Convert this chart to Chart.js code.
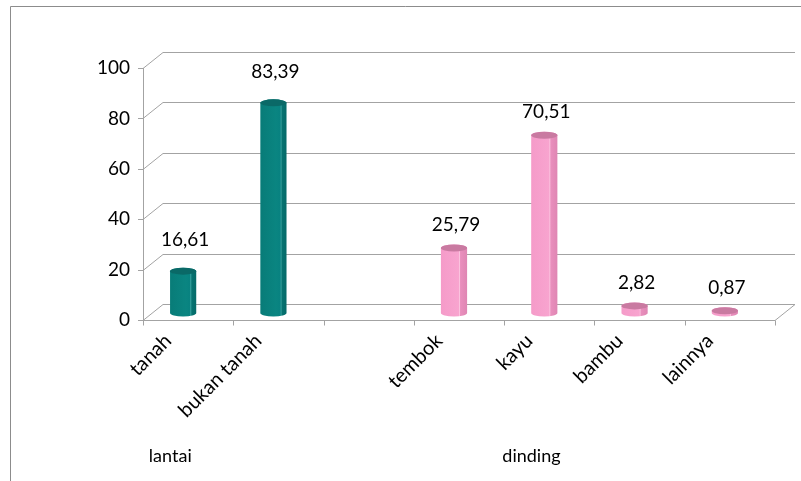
<!DOCTYPE html>
<html>
<head>
<meta charset="utf-8">
<script src="https://cdn.jsdelivr.net/npm/chart.js@4"></script>
<style>
  html, body { margin: 0; padding: 0; background: #fff; }
  #wrap { width: 801px; height: 481px; position: relative; }
</style>
</head>
<body>
<div id="wrap"><canvas id="chart" width="801" height="481"></canvas></div>
<script>
// data
const categories = ['tanah', 'bukan tanah', '', 'tembok', 'kayu', 'bambu', 'lainnya'];
const lantaiValues = [16.61, 83.39, null, null, null, null, null];
const dindingValues = [null, null, null, 25.79, 70.51, 2.82, 0.87];
const groupLabels = ['lantai', 'dinding'];
const groupFirst = [0, 3];
const groupLast = [1, 6];
const yTicks = [0, 20, 40, 60, 80, 100];

const FONT = 'Lato, "Open Sans", sans-serif';
const depth = { x: 20, y: -16 };     // back wall offset
const barShift = { x: -5, y: -7 };   // cylinders sit a bit behind the front plane
const gridColor = '#a3a3a3';

const palettes = {
    lantai: {
        stops: [[0, '#087c78'], [0.6, '#0a8581'], [0.76, '#088280'], [0.79, '#3ea4a1'], [0.83, '#067371'], [1, '#056a68']],
        top: '#0a6967',
        labelGap: 31
    },
    dinding: {
        stops: [[0, '#f59bc9'], [0.68, '#f8a4cf'], [0.71, '#fbc3de'], [0.75, '#e98fbd'], [1, '#df86b3']],
        top: '#c97aa1',
        labelGap: 23
    }
};

function fmt(v) {
    return v.toFixed(2).replace('.', ',');
}

function drawCylinder(ctx, cx, top, bottom, w, pal) {
    const rx = w / 2, ry = 3.5;
    const l = cx - rx, r = cx + rx;
    const g = ctx.createLinearGradient(l, 0, r, 0);
    pal.stops.forEach(s => g.addColorStop(s[0], s[1]));
    ctx.beginPath();
    ctx.moveTo(l, top);
    ctx.lineTo(l, bottom);
    ctx.ellipse(cx, bottom, rx, ry, 0, Math.PI, 0, true);
    ctx.lineTo(r, top);
    ctx.ellipse(cx, top, rx, ry, 0, 0, Math.PI, true);
    ctx.closePath();
    ctx.fillStyle = g;
    ctx.fill();
    ctx.beginPath();
    ctx.ellipse(cx, top, rx, ry, 0, 0, Math.PI * 2);
    ctx.fillStyle = pal.top;
    ctx.fill();
}

const wallPlugin = {
    id: 'wall',
    beforeDraw(chart) {
        const ctx = chart.ctx;
        ctx.save();
        // outer frame
        ctx.strokeStyle = '#8c8c8c';
        ctx.lineWidth = 1;
        ctx.beginPath();
        ctx.moveTo(10.5, 481);
        ctx.lineTo(10.5, 6.5);
        ctx.lineTo(801, 6.5);
        ctx.stroke();
        ctx.restore();
    },
    beforeDatasetsDraw(chart) {
        const ctx = chart.ctx;
        const ca = chart.chartArea;
        const y = chart.scales.y;
        const x = chart.scales.x;
        ctx.save();
        ctx.strokeStyle = gridColor;
        ctx.lineWidth = 1;
        // back wall gridlines + left side diagonals
        yTicks.forEach(v => {
            const py = Math.round(y.getPixelForValue(v)) + 0.5;
            ctx.beginPath();
            ctx.moveTo(ca.left, py);
            ctx.lineTo(ca.left + depth.x, py + depth.y);
            ctx.lineTo(ca.right + depth.x, py + depth.y);
            ctx.stroke();
            // y tick mark
            ctx.beginPath();
            ctx.moveTo(ca.left - 5, py);
            ctx.lineTo(ca.left, py);
            ctx.stroke();
        });
        // left wall vertical edge
        ctx.beginPath();
        ctx.moveTo(ca.left + 0.5, y.getPixelForValue(100));
        ctx.lineTo(ca.left + 0.5, y.getPixelForValue(0));
        ctx.stroke();
        // floor front edge and right diagonal
        const by = Math.round(y.getPixelForValue(0)) + 0.5;
        ctx.beginPath();
        ctx.moveTo(ca.left, by);
        ctx.lineTo(ca.right, by);
        ctx.lineTo(ca.right + depth.x, by + depth.y);
        ctx.stroke();
        // x tick marks on category boundaries
        const step = (ca.right - ca.left) / categories.length;
        for (let i = 0; i <= categories.length; i++) {
            const px = Math.round(ca.left + i * step) + 0.5;
            ctx.beginPath();
            ctx.moveTo(px, by);
            ctx.lineTo(px, by + 5);
            ctx.stroke();
        }
        // group labels under the categories
        ctx.fillStyle = '#000';
        ctx.font = '18px ' + FONT;
        ctx.textAlign = 'center';
        ctx.textBaseline = 'middle';
        groupLabels.forEach((lab, i) => {
            const cx = (x.getPixelForValue(groupFirst[i]) + x.getPixelForValue(groupLast[i])) / 2 - 63;
            ctx.fillText(lab, cx, 456);
        });
        ctx.restore();
    },
    afterDatasetsDraw(chart) {
        const ctx = chart.ctx;
        ctx.save();
        chart.data.datasets.forEach((ds, di) => {
            const pal = palettes[ds.key];
            const meta = chart.getDatasetMeta(di);
            meta.data.forEach((bar, i) => {
                const v = ds.data[i];
                if (v === null || v === undefined) return;
                const p = bar.getProps(['x', 'y', 'base', 'width'], true);
                const cx = p.x + barShift.x;
                const top = p.y + barShift.y;
                const bottom = p.base + barShift.y;
                drawCylinder(ctx, cx, top, bottom, p.width, pal);
                ctx.fillStyle = '#000';
                ctx.font = '19px ' + FONT;
                ctx.textAlign = 'center';
                ctx.textBaseline = 'middle';
                ctx.fillText(fmt(v), cx + 2, top - pal.labelGap);
            });
        });
        ctx.restore();
    }
};

const barOpts = {
    grouped: false,
    barPercentage: 0.29,
    categoryPercentage: 1,
    backgroundColor: 'rgba(0,0,0,0)',
    borderWidth: 0
};

new Chart(document.getElementById('chart'), {
    type: 'bar',
    data: {
        labels: categories,
        datasets: [
            Object.assign({ label: 'lantai', key: 'lantai', data: lantaiValues }, barOpts),
            Object.assign({ label: 'dinding', key: 'dinding', data: dindingValues }, barOpts)
        ]
    },
    options: {
        responsive: false,
        animation: false,
        events: [],
        layout: { padding: { left: 0, right: 26, top: 68, bottom: 0 } },
        plugins: {
            legend: { display: false },
            tooltip: { enabled: false }
        },
        scales: {
            x: {
                grid: { display: false, drawTicks: false },
                border: { display: false },
                ticks: {
                    minRotation: 45,
                    maxRotation: 45,
                    autoSkip: false,
                    padding: 9,
                    labelOffset: -20,
                    color: '#000',
                    font: { family: FONT, size: 20 }
                },
                afterFit(scale) { scale.height = 161; }
            },
            y: {
                min: 0,
                max: 100,
                grid: { display: false, drawTicks: false },
                border: { display: false },
                ticks: {
                    stepSize: 20,
                    padding: 13,
                    color: '#000',
                    font: { family: FONT, size: 19 }
                },
                afterFit(scale) { scale.width = 143; }
            }
        }
    },
    plugins: [wallPlugin]
});
</script>
</body>
</html>
